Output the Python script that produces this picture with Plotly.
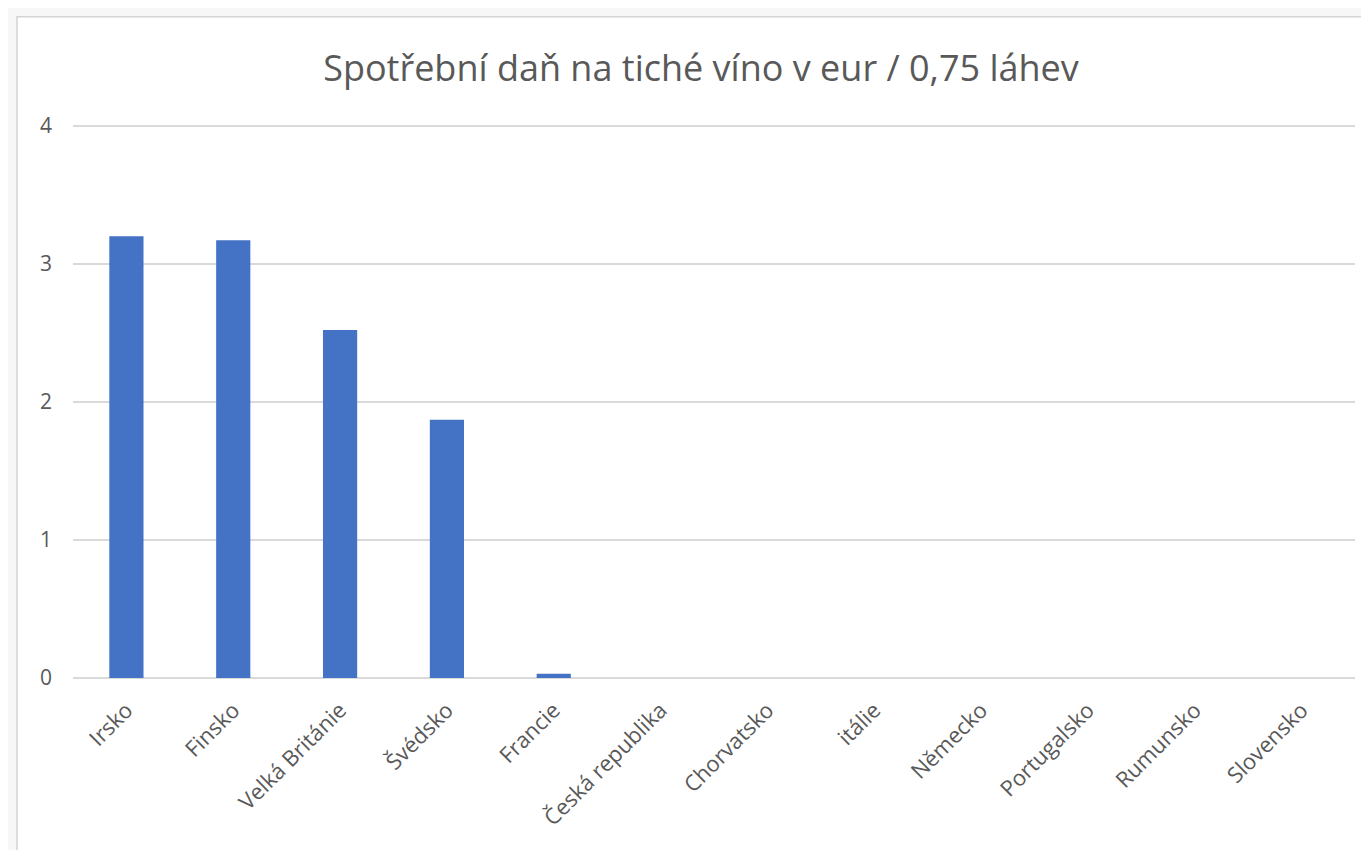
import plotly.graph_objects as go

countries = ["Irsko", "Finsko", "Velká Británie", "Švédsko", "Francie", "Česká republika",
             "Chorvatsko", "itálie", "Německo", "Portugalsko", "Rumunsko", "Slovensko"]
tax_eur = [3.2, 3.17, 2.52, 1.87, 0.03, 0, 0, 0, 0, 0, 0, 0]
y_ticks = [0, 1, 2, 3, 4]
y_max = 4.02

# page body adds an 8px margin, so the figure is drawn 8px in from the window edge
OFF = 8
W, H = 1369 - OFF, 850 - OFF
px_per_unit = (678 - 126) / 4
L, R = 73 - OFF, 14
B = 172
T = 126 - (y_max - 4) * px_per_unit - OFF
pw, ph = W - L - R, H - T - B

def px_x(p):
    return (p - OFF - L) / pw

def px_y(p):
    return (H - B - (p - OFF)) / ph

fig = go.Figure(go.Bar(x=countries, y=tax_eur, marker=dict(color="#4472C4", line=dict(width=0))))

fig.update_layout(
    width=W, height=H,
    margin=dict(l=L, r=R, t=T, b=B, autoexpand=False),
    paper_bgcolor="#F7F7F7",
    plot_bgcolor="white",
    bargap=0.68,
    showlegend=False,
    font=dict(family="Open Sans", color="#595959", size=21),
    title=dict(text="Spotřební daň na tiché víno v eur / 0,75 láhev", x=(701 - OFF) / W, xref="container",
               xanchor="center", y=1 - (68 - OFF) / H, yanchor="middle", yref="container",
               font=dict(size=36, color="#595959", family="Open Sans")),
    shapes=[dict(type="rect", xref="paper", yref="paper", layer="below",
                 x0=px_x(17), x1=px_x(1369 + 10), y0=px_y(850 + 10), y1=px_y(17),
                 fillcolor="white", line=dict(color="#D4D4D4", width=1.5))],
    xaxis=dict(tickangle=-45, showgrid=False, showline=False, ticks="", ticklabelstandoff=14,
               tickfont=dict(size=22, color="#595959")),
    yaxis=dict(range=[0, y_max], tickvals=y_ticks, showgrid=True, gridcolor="#D9D9D9", gridwidth=1.5,
               zeroline=True, zerolinecolor="#D9D9D9", zerolinewidth=1.5, showline=False,
               ticks="", ticklabelstandoff=20, tickfont=dict(size=21, color="#595959")),
)

fig.write_html("out.html")
